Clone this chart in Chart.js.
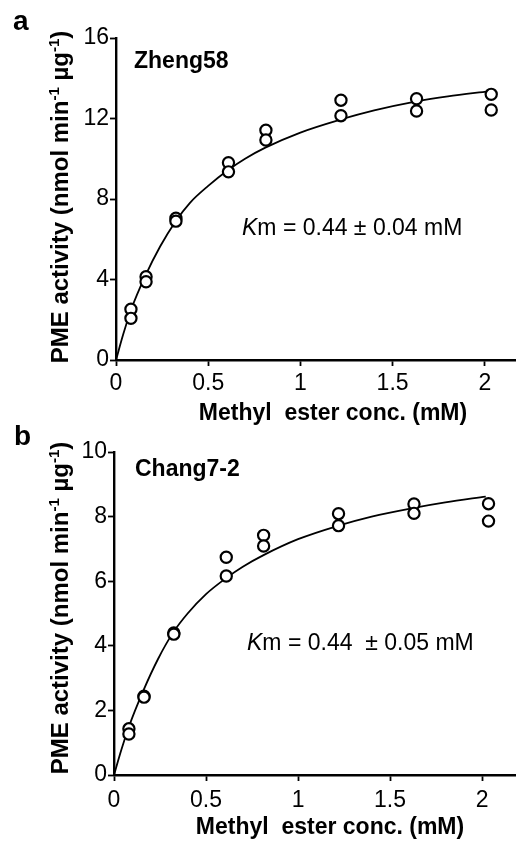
<!DOCTYPE html>
<html><head><meta charset="utf-8">
<script src="https://cdn.jsdelivr.net/npm/chart.js@4.4.1/dist/chart.umd.min.js"></script>
<style>
html,body{margin:0;padding:0;background:#fff;}
#wrap{position:relative;width:523px;height:846px;overflow:hidden;background:#fff;}
canvas{position:absolute;left:0;}
#ca{top:0;}
#cb{top:423px;}
</style></head><body>
<div id="wrap"><canvas id="ca" width="523" height="445"></canvas><canvas id="cb" width="523" height="423"></canvas></div>
<script>
const FONT = "'Liberation Sans', Arial, sans-serif";

// Substrate concentrations (mM)
const concentrations = [0.081, 0.163, 0.325, 0.61, 0.813, 1.22, 1.63, 2.035];
// Panel a: Zheng58, two replicates
const zheng58Rep1 = [2.52, 4.14, 7.04, 9.8, 11.42, 12.91, 12.98, 13.2];
const zheng58Rep2 = [2.07, 3.89, 6.9, 9.35, 10.93, 12.14, 12.37, 12.42];
// Panel b: Chang7-2, two replicates
const chang72Rep1 = [1.43, 2.44, 4.4, 6.74, 7.42, 8.09, 8.39, 8.4];
const chang72Rep2 = [1.27, 2.41, 4.36, 6.16, 7.09, 7.72, 8.1, 7.86];
// Fitted curves
const fitConc = [0, 0.04, 0.08, 0.16, 0.24, 0.32, 0.4, 0.5, 0.61, 0.7, 0.81, 1.0, 1.22, 1.4, 1.63, 1.8, 2.02];
const zheng58Fit = [0, 1.3, 2.45, 4.2, 5.65, 6.85, 7.8, 8.65, 9.45, 10.0, 10.55, 11.3, 11.95, 12.4, 12.85, 13.1, 13.35];
const chang72Fit = [0, 0.78, 1.48, 2.62, 3.6, 4.4, 5.0, 5.6, 6.1, 6.45, 6.8, 7.3, 7.72, 8.0, 8.27, 8.44, 8.62];
// Tick values / labels
const xTicks = [0, 0.5, 1, 1.5, 2];
const xTickLabels = ['0', '0.5', '1', '1.5', '2'];
const yTicksA = [0, 4, 8, 12, 16];
const yTicksB = [0, 2, 4, 6, 8, 10];
// Texts
const xTitle = 'Methyl  ester conc. (mM)';
const yTitleParts = [['PME activity (nmol min', false], ['-1', true], [' \u00b5g', false], ['-1', true], [')', false]];

function makeDatasets(rep1, rep2, fit) {
  const pt = {pointRadius: 5.6, pointHoverRadius: 5.6, pointBorderWidth: 2.2, pointBackgroundColor: '#fff', pointBorderColor: '#000', showLine: false, clip: false};
  return [
    Object.assign({type: 'scatter', order: 1, data: concentrations.map((x, i) => ({x, y: rep2[i]}))}, pt),
    Object.assign({type: 'scatter', order: 2, data: concentrations.map((x, i) => ({x, y: rep1[i]}))}, pt),
    {type: 'line', order: 3, data: fitConc.map((x, i) => ({x, y: fit[i]})), borderColor: '#000', borderWidth: 1.8,
     pointRadius: 0, fill: false, cubicInterpolationMode: 'monotone', clip: false}
  ];
}

function annotPlugin(c) {
  return {
    id: 'annot' + c.panel,
    afterDraw(chart) {
      const ctx = chart.ctx;
      ctx.save();
      ctx.fillStyle = '#000';
      ctx.textBaseline = 'alphabetic';
      ctx.textAlign = 'left';
      ctx.font = 'bold 28px ' + FONT;
      ctx.fillText(c.panel, c.panelX, c.panelY);
      ctx.font = 'bold 23px ' + FONT;
      ctx.fillText(c.strain, c.strainX, c.strainY);
      let x = c.kmX;
      ctx.font = 'italic 23px ' + FONT;
      ctx.fillText('K', x, c.kmY);
      x += ctx.measureText('K').width;
      ctx.font = '23px ' + FONT;
      ctx.fillText(c.kmText, x, c.kmY);
      ctx.font = 'bold 23px ' + FONT;
      ctx.textAlign = 'center';
      ctx.fillText(xTitle, c.xTitleX, c.xTitleY);
      // rotated y title
      ctx.textAlign = 'left';
      const mainF = 'bold 24px ' + FONT, supF = 'bold 15px ' + FONT;
      let total = 0;
      yTitleParts.forEach(([t, sup]) => { ctx.font = sup ? supF : mainF; total += ctx.measureText(t).width; });
      ctx.translate(c.yTitleX, c.yTitleY);
      ctx.rotate(-Math.PI / 2);
      let px = -total / 2;
      yTitleParts.forEach(([t, sup]) => {
        ctx.font = sup ? supF : mainF;
        ctx.fillText(t, px, sup ? -9 : 0);
        px += ctx.measureText(t).width;
      });
      ctx.restore();
    }
  };
}

function makeChart(id, rep1, rep2, fit, yTicks, yMax, xMax, yWidth, xHeight, topPad, xPad, annot) {
  const axisCommon = {
    grid: {display: true, drawOnChartArea: false, drawTicks: true, tickLength: 6, tickWidth: 1.8, tickColor: '#000'},
    border: {display: true, width: 2.4, color: '#000'}
  };
  return new Chart(document.getElementById(id), {
    type: 'scatter',
    data: {datasets: makeDatasets(rep1, rep2, fit)},
    options: {
      responsive: false, animation: false, devicePixelRatio: 1, events: [],
      layout: {padding: {top: topPad, left: 0, right: 0, bottom: 0}},
      plugins: {legend: {display: false}, tooltip: {enabled: false}},
      scales: {
        x: Object.assign({
          type: 'linear', min: 0, max: xMax,
          afterBuildTicks: s => { s.ticks = xTicks.map(v => ({value: v})); },
          afterFit: s => { s.height = xHeight; },
          ticks: {callback: (v, i) => xTickLabels[i], font: {family: FONT, size: 23}, color: '#000', padding: xPad, maxRotation: 0, autoSkip: false}
        }, axisCommon),
        y: Object.assign({
          type: 'linear', min: 0, max: yMax,
          afterBuildTicks: s => { s.ticks = yTicks.map(v => ({value: v})); },
          afterFit: s => { s.width = yWidth; },
          ticks: {callback: v => String(v), font: {family: FONT, size: 23}, color: '#000', padding: 1, autoSkip: false}
        }, axisCommon)
      }
    },
    plugins: [annotPlugin(annot)]
  });
}

makeChart('ca', zheng58Rep1, zheng58Rep2, zheng58Fit, yTicksA, 16, 2.165, 116, 85, 38, 4, {
  panel: 'a', panelX: 13, panelY: 30, strain: 'Zheng58', strainX: 134, strainY: 68,
  kmX: 242, kmY: 235, kmText: 'm = 0.44 \u00b1 0.04 mM', xTitleX: 333, xTitleY: 420, yTitleX: 68, yTitleY: 197
});
makeChart('cb', chang72Rep1, chang72Rep2, chang72Fit, yTicksB, 10, 2.18, 114, 71, 29, 6, {
  panel: 'b', panelX: 14, panelY: 22, strain: 'Chang7-2', strainX: 135, strainY: 53,
  kmX: 247, kmY: 227, kmText: 'm = 0.44  \u00b1 0.05 mM', xTitleX: 330, xTitleY: 411, yTitleX: 68, yTitleY: 185
});
</script>
</body></html>
